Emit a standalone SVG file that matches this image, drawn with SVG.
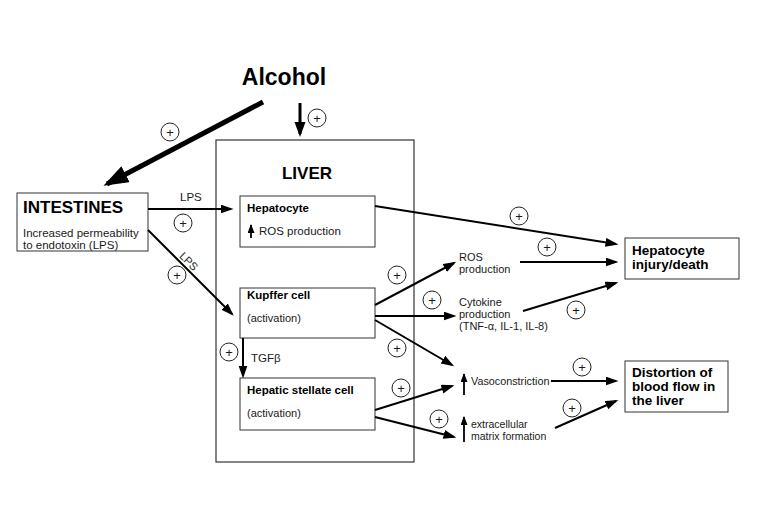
<svg xmlns="http://www.w3.org/2000/svg" width="762" height="507" viewBox="0 0 762 507">
<defs>
<marker id="a" markerUnits="userSpaceOnUse" markerWidth="14" markerHeight="10" refX="10.5" refY="4.5" orient="auto"><path d="M0,0 L13,4.5 L0,9 z" fill="#000"/></marker>
<marker id="big" markerUnits="userSpaceOnUse" markerWidth="26" markerHeight="20" refX="21" refY="9" orient="auto"><path d="M0,0 L25,9 L0,18 z" fill="#000"/></marker>
<marker id="dn" markerUnits="userSpaceOnUse" markerWidth="16" markerHeight="12" refX="12" refY="5.5" orient="auto"><path d="M0,0 L15,5.5 L0,11 z" fill="#000"/></marker>
<marker id="up" markerUnits="userSpaceOnUse" markerWidth="10" markerHeight="8" refX="8" refY="3.5" orient="auto"><path d="M0,0 L9,3.5 L0,7 z" fill="#000"/></marker>
</defs>
<style>
text{font-family:"Liberation Sans",Arial,Helvetica,sans-serif;fill:#1a1a1a}
.b{font-weight:bold;fill:#000}
.box{fill:#fff;stroke:#333;stroke-width:1}
.c{stroke:#000;stroke-width:2;fill:none;marker-end:url(#a)}
.u{stroke:#000;stroke-width:1.8;fill:none;marker-end:url(#up)}
.s{font-size:11.5px}
.m{font-size:11px}
.sg circle{fill:#fff;stroke:#222;stroke-width:1}
.sg text{font-size:13px;text-anchor:middle}
</style>
<rect width="762" height="507" fill="#fff"/>

<g id="alcohol"><text x="284" y="85" class="b" font-size="23" text-anchor="middle">Alcohol</text></g>

<g id="liver">
<rect x="216" y="140" width="198" height="322" fill="none" stroke="#333" stroke-width="1.2"/>
<text x="307" y="179" class="b" font-size="17" text-anchor="middle">LIVER</text>
</g>

<g id="intestines">
<rect class="box" x="17" y="193" width="131" height="58"/>
<text x="23" y="213" class="b" font-size="17">INTESTINES</text>
<text x="23" y="237" class="s">Increased permeability</text>
<text x="23" y="249" class="s">to endotoxin (LPS)</text>
</g>

<g id="hepatocyte">
<rect class="box" x="240" y="196" width="135" height="51"/>
<text x="247" y="211.5" class="b s">Hepatocyte</text>
<text x="259" y="235" class="s">ROS production</text>
<path class="u" d="M251,238 L251,225"/>
</g>

<g id="kupffer">
<rect class="box" x="240" y="288" width="135" height="50"/>
<text x="247" y="299" class="b s">Kupffer cell</text>
<text x="247" y="322" class="m">(activation)</text>
</g>

<g id="stellate">
<rect class="box" x="240" y="378" width="135" height="52"/>
<text x="247" y="394" class="b s">Hepatic stellate cell</text>
<text x="247" y="417" class="m">(activation)</text>
</g>

<g id="ros">
<text x="459" y="261" class="m">ROS</text>
<text x="459" y="273" class="m">production</text>
</g>

<g id="cytokine">
<text x="459" y="306" class="m">Cytokine</text>
<text x="459" y="318" class="m">production</text>
<text x="459" y="330" class="m">(TNF-α, IL-1, IL-8)</text>
</g>

<g id="vaso">
<path class="u" d="M464,395 L464,374"/>
<text x="471" y="385" font-size="10.8">Vasoconstriction</text>
</g>

<g id="ecm">
<path class="u" d="M464,442 L464,417"/>
<text x="471" y="428" font-size="10.5">extracellular</text>
<text x="471" y="440" font-size="10.5">matrix formation</text>
</g>

<g id="injury">
<rect class="box" x="625" y="238" width="114" height="41"/>
<text x="632" y="255" class="b" font-size="13.5">Hepatocyte</text>
<text x="632" y="269" class="b" font-size="13.5">injury/death</text>
</g>

<g id="distortion">
<rect class="box" x="625" y="361" width="103" height="51"/>
<text x="632" y="377" class="b" font-size="13.5">Distortion of</text>
<text x="632" y="391" class="b" font-size="13.5">blood flow in</text>
<text x="632" y="405" class="b" font-size="13.5">the liver</text>
</g>

<g id="connectors">
<path d="M263,102 L107,184" stroke="#000" stroke-width="5" fill="none" marker-end="url(#big)"/>
<path d="M300,103 L300,134" stroke="#000" stroke-width="3" fill="none" marker-end="url(#dn)"/>
<path class="c" d="M148,209 L231,209"/>
<text x="180" y="201" class="s">LPS</text>
<path class="c" d="M148,230 L232,314"/>
<text x="186" y="264" font-size="11" text-anchor="middle" transform="rotate(45 186 264)">LPS</text>
<path class="c" d="M375,206 L616,244"/>
<path class="c" d="M520,262 L616,262"/>
<path class="c" d="M523,311 L616,283"/>
<path class="c" d="M375,305 L454,263"/>
<path class="c" d="M375,316 L454,316"/>
<path class="c" d="M375,320 L452,365"/>
<path class="c" d="M243,338 L243,376"/>
<text x="251" y="362" class="s">TGFβ</text>
<path class="c" d="M375,410 L452,386"/>
<path class="c" d="M375,417 L454,437"/>
<path class="c" d="M551,381 L616,381"/>
<path class="c" d="M555,428 L616,401"/>
</g>

<g id="signs" class="sg">
<circle cx="170" cy="132" r="9"/><text x="170" y="136.5">+</text>
<circle cx="317" cy="118" r="9"/><text x="317" y="122.5">+</text>
<circle cx="183" cy="223" r="9"/><text x="183" y="227.5">+</text>
<circle cx="177" cy="275" r="9"/><text x="177" y="279.5">+</text>
<circle cx="229" cy="352" r="9"/><text x="229" y="356.5">+</text>
<circle cx="519" cy="216" r="9"/><text x="519" y="220.5">+</text>
<circle cx="547" cy="247" r="9"/><text x="547" y="251.5">+</text>
<circle cx="397" cy="275" r="9"/><text x="397" y="279.5">+</text>
<circle cx="432" cy="300" r="9"/><text x="432" y="304.5">+</text>
<circle cx="576" cy="310" r="9"/><text x="576" y="314.5">+</text>
<circle cx="397" cy="348" r="9"/><text x="397" y="352.5">+</text>
<circle cx="401" cy="388" r="9"/><text x="401" y="392.5">+</text>
<circle cx="439" cy="419" r="9"/><text x="439" y="423.5">+</text>
<circle cx="582" cy="367" r="9"/><text x="582" y="371.5">+</text>
<circle cx="572" cy="408" r="9"/><text x="572" y="412.5">+</text>
</g>
</svg>
